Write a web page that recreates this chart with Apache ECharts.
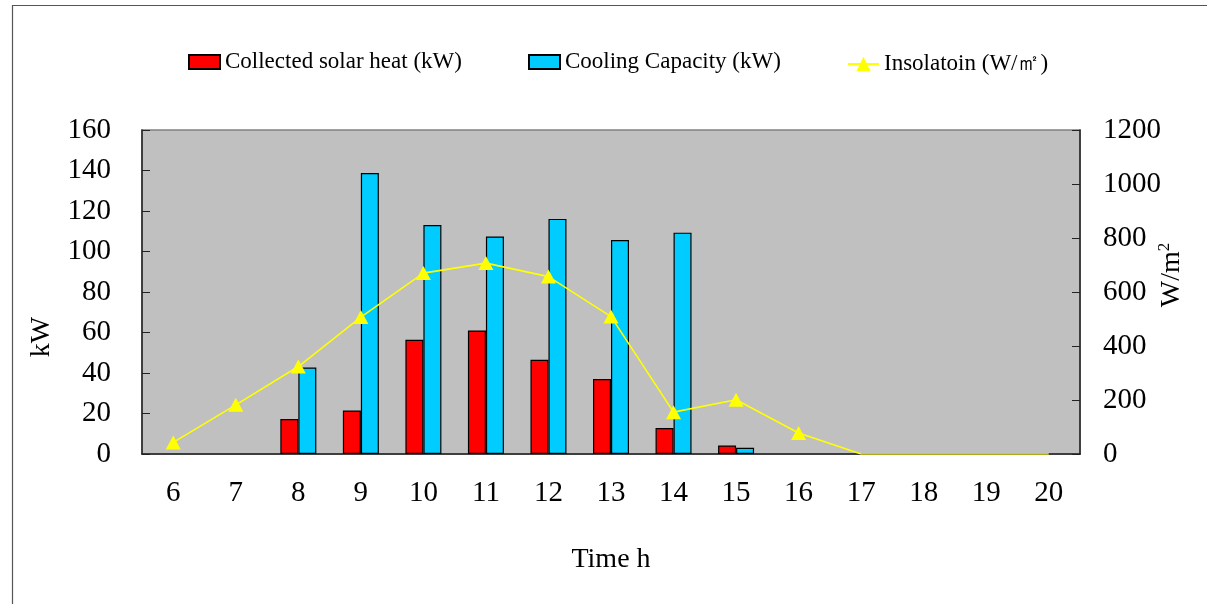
<!DOCTYPE html>
<html>
<head>
<meta charset="utf-8">
<script src="https://cdn.jsdelivr.net/npm/echarts@6/dist/echarts.min.js"></script>
<style>
  html, body { margin: 0; padding: 0; background: #ffffff; }
  #chart { width: 1207px; height: 604px; }
</style>
</head>
<body>
<div id="chart"></div>
<script>
// Hour of day
const hours = ['6', '7', '8', '9', '10', '11', '12', '13', '14', '15', '16', '17', '18', '19', '20'];
// Collected solar heat, kW
const solarHeat = [null, null, 17.3, 21.5, 56.4, 61, 46.5, 37, 12.8, 4.2, null, null, null, null, null];
// Cooling capacity, kW
const coolingCapacity = [null, null, 42.7, 138.8, 113.1, 107.4, 116.1, 105.7, 109.3, 3.1, null, null, null, null, null];
// Insolation, W/m2
const insolation = [43, 182, 324, 507, 670, 707, 657, 509, 155, 201, 78, 0, 0, 0, 0];
// Axis tick values
const kwTicks = { min: 0, max: 160, step: 20 };
const wTicks = { min: 0, max: 1200, step: 200 };

const FONT = 'Liberation Serif';
const chart = echarts.init(document.getElementById('chart'), null, { renderer: 'canvas' });

// hours after sunset lie on the axis; keep their line but drop the markers
const insolationData = insolation.map((v, i) => (i >= 11 ? { value: v, symbol: 'none' } : v));

const legendText = { fontFamily: FONT, fontSize: 23, color: '#000', lineHeight: 28 };

chart.setOption({
  backgroundColor: '#ffffff',
  animation: false,
  graphic: [
    {
      type: 'rect', z: -10, silent: true,
      shape: { x: 12.5, y: 5.5, width: 1400, height: 800 },
      style: { fill: 'none', stroke: '#555555', lineWidth: 1.2 }
    },
    {
      type: 'text', silent: true,
      x: 42, y: 337, rotation: Math.PI / 2,
      style: { text: 'kW', font: '28px "' + FONT + '"', fill: '#000', align: 'center', verticalAlign: 'middle' }
    },
    {
      type: 'text', silent: true,
      x: 1172, y: 275, rotation: Math.PI / 2,
      style: {
        text: 'W/m{sup|2}', fill: '#000', align: 'center', verticalAlign: 'middle',
        fontFamily: FONT, fontSize: 28,
        rich: { sup: { fontFamily: FONT, fontSize: 17, verticalAlign: 'top', padding: [0, 0, 14, 0] } }
      }
    }
  ],
  legend: [
    {
      data: [{ name: 'Collected solar heat (kW)', icon: 'rect' }],
      left: 183, top: 43, itemWidth: 31, itemHeight: 14, itemGap: 0,
      textStyle: legendText
    },
    {
      data: [{ name: 'Cooling Capacity (kW)', icon: 'rect' }],
      left: 523, top: 43, itemWidth: 31, itemHeight: 14, itemGap: 0,
      textStyle: legendText
    },
    {
      data: ['Insolatoin (W/㎡)'],
      left: 842, top: 41, itemWidth: 31, itemHeight: 18, itemGap: 0,
      textStyle: Object.assign({}, legendText, { padding: [8, 0, 0, 0] })
    }
  ],
  grid: {
    left: 142, right: 127, top: 130, height: 324,
    show: true, backgroundColor: '#C0C0C0', borderColor: '#808080', borderWidth: 1.5,
    containLabel: false
  },
  xAxis: {
    type: 'category',
    data: hours,
    boundaryGap: true,
    name: 'Time h',
    nameLocation: 'middle',
    nameGap: 92,
    nameTextStyle: { fontFamily: FONT, fontSize: 28, color: '#000' },
    axisLine: { lineStyle: { color: '#222', width: 1.5 } },
    axisTick: { inside: true, length: 8, lineStyle: { color: '#222', width: 1 } },
    axisLabel: { fontFamily: FONT, fontSize: 29, color: '#000', margin: 25 },
    splitLine: { show: false }
  },
  yAxis: [
    {
      type: 'value',
      min: kwTicks.min, max: kwTicks.max, interval: kwTicks.step,
      axisLine: { show: true, lineStyle: { color: '#222', width: 1.5 } },
      axisTick: { show: true, inside: true, length: 8, lineStyle: { color: '#222', width: 1 } },
      axisLabel: { fontFamily: FONT, fontSize: 29, color: '#000', margin: 31, formatter: (v) => String(v) },
      splitLine: { show: false }
    },
    {
      type: 'value',
      min: wTicks.min, max: wTicks.max, interval: wTicks.step,
      position: 'right',
      axisLine: { show: true, lineStyle: { color: '#222', width: 1.5 } },
      axisTick: { show: true, inside: true, length: 8, lineStyle: { color: '#222', width: 1 } },
      axisLabel: { fontFamily: FONT, fontSize: 29, color: '#000', margin: 23, formatter: (v) => String(v) },
      splitLine: { show: false }
    }
  ],
  series: [
    {
      name: 'Collected solar heat (kW)',
      type: 'bar',
      data: solarHeat,
      barWidth: 18,
      barGap: '0%',
      itemStyle: { color: '#FF0000', borderColor: '#000', borderWidth: 1.2 }
    },
    {
      name: 'Cooling Capacity (kW)',
      type: 'bar',
      data: coolingCapacity,
      barWidth: 18,
      barGap: '0%',
      itemStyle: { color: '#00CCFF', borderColor: '#000', borderWidth: 1.2 }
    },
    {
      name: 'Insolatoin (W/㎡)',
      type: 'line',
      yAxisIndex: 1,
      data: insolationData,
      symbol: 'triangle',
      symbolSize: [15, 14],
      lineStyle: { color: '#FFFF00', width: 1.6 },
      itemStyle: { color: '#FFFF00' },
      z: 5
    }
  ]
});
</script>
</body>
</html>
